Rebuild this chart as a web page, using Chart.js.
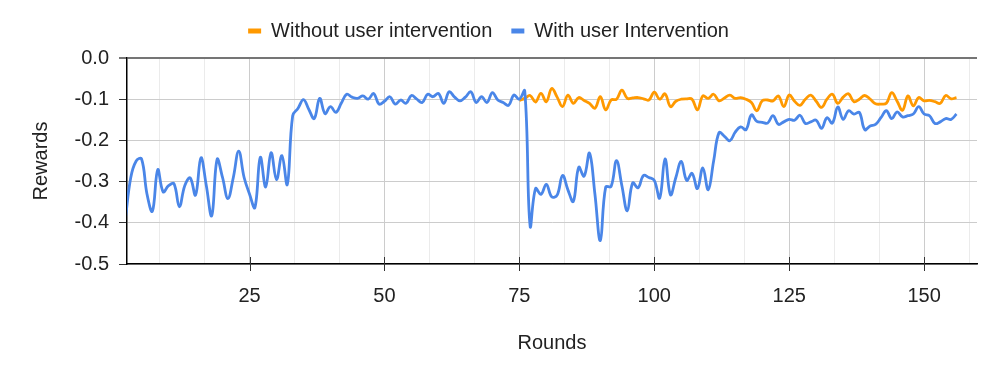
<!DOCTYPE html>
<html>
<head>
  <title>Rewards per round</title>
  <script src="https://cdn.jsdelivr.net/npm/chart.js@4.4.1/dist/chart.umd.min.js"></script>
  <style>
    body {
      margin: 0;
      background-color: white;
    }
  </style>
</head>
<body>
  <canvas id="rewardChart" width="996" height="370"></canvas>

  <script>
    // Series names
    var seriesNames = ['Without user intervention', 'With user Intervention'];

    // With user Intervention: one value per round, starting at round 2
    var withStart = 2;
    var withValues = [
      -0.390, -0.290, -0.250, -0.245, -0.330, -0.372, -0.271, -0.325, -0.310, -0.305,  // 2-11
      -0.361, -0.310, -0.291, -0.333, -0.242, -0.310, -0.383, -0.246, -0.290, -0.341,  // 12-21
      -0.290, -0.226, -0.290, -0.330, -0.363, -0.241, -0.313, -0.230, -0.295, -0.237,  // 22-31
      -0.307, -0.140, -0.122, -0.101, -0.125, -0.147, -0.098, -0.135, -0.118, -0.132,  // 32-41
      -0.110, -0.088, -0.095, -0.098, -0.092, -0.100, -0.086, -0.112, -0.105, -0.094,  // 42-51
      -0.112, -0.102, -0.110, -0.091, -0.100, -0.108, -0.088, -0.094, -0.086, -0.110,  // 52-61
      -0.082, -0.095, -0.104, -0.095, -0.082, -0.108, -0.094, -0.108, -0.084, -0.102,  // 62-71
      -0.108, -0.115, -0.090, -0.100, -0.080, -0.408, -0.317, -0.331, -0.307, -0.337,  // 72-81
      -0.333, -0.285, -0.320, -0.348, -0.265, -0.287, -0.231, -0.330, -0.443, -0.313,  // 82-91
      -0.312, -0.249, -0.310, -0.371, -0.303, -0.315, -0.285, -0.290, -0.297, -0.340,  // 92-101
      -0.245, -0.332, -0.290, -0.251, -0.297, -0.280, -0.317, -0.267, -0.320, -0.250,  // 102-111
      -0.181, -0.190, -0.201, -0.180, -0.167, -0.174, -0.138, -0.154, -0.156, -0.158,  // 112-121
      -0.140, -0.161, -0.155, -0.149, -0.151, -0.139, -0.159, -0.155, -0.151, -0.171,  // 122-131
      -0.145, -0.158, -0.119, -0.149, -0.128, -0.136, -0.132, -0.174, -0.165, -0.161,  // 132-141
      -0.145, -0.128, -0.147, -0.131, -0.143, -0.140, -0.136, -0.118, -0.136, -0.140,  // 142-151
      -0.159, -0.155, -0.147, -0.149, -0.136                                           // 152-156
    ];

    // Without user intervention: one value per round, starting at round 75
    var withoutStart = 75;
    var withoutValues = [
      -0.103, -0.098, -0.091, -0.107, -0.086, -0.106, -0.074, -0.095, -0.118, -0.090,  // 75-84
      -0.110, -0.096, -0.103, -0.110, -0.122, -0.094, -0.126, -0.102, -0.100, -0.078,  // 85-94
      -0.098, -0.097, -0.096, -0.099, -0.102, -0.083, -0.100, -0.087, -0.118, -0.105,  // 95-104
      -0.100, -0.099, -0.100, -0.126, -0.092, -0.098, -0.088, -0.104, -0.097, -0.090,  // 105-114
      -0.098, -0.096, -0.100, -0.108, -0.128, -0.104, -0.102, -0.104, -0.092, -0.118,  // 115-124
      -0.090, -0.105, -0.115, -0.100, -0.090, -0.105, -0.120, -0.100, -0.088, -0.110,  // 125-134
      -0.095, -0.087, -0.106, -0.100, -0.091, -0.100, -0.111, -0.112, -0.110, -0.084,  // 135-144
      -0.105, -0.127, -0.092, -0.116, -0.096, -0.104, -0.103, -0.106, -0.110, -0.091,  // 145-154
      -0.099, -0.096                                                                   // 155-156
    ];

    // Axis ticks
    var xMajorTicks = [25, 50, 75, 100, 125, 150];
    var xMinorPerMajor = 3;
    var xMin = 2.3;
    var xMax = 159.8;
    var yTicks = [-0.5, -0.4, -0.3, -0.2, -0.1, 0.0];

    var orange = '#ff9900';
    var blue = '#4a86e8';
    var fontFamily = "Arial, 'Liberation Sans', sans-serif";

    function toPoints(start, values) {
      var pts = [];
      for (var i = 0; i < values.length; i++) {
        pts.push({ x: start + i, y: values[i] });
      }
      return pts;
    }

    function isMajor(v) {
      return xMajorTicks.indexOf(Math.round(v * 1000) / 1000) !== -1;
    }

    // Major ticks cross the x axis line
    var crossTicks = {
      id: 'crossTicks',
      afterDraw: function(chart) {
        var ctx = chart.ctx;
        var xs = chart.scales.x;
        var bottom = chart.chartArea.bottom;
        ctx.save();
        ctx.strokeStyle = '#333';
        ctx.lineWidth = 1;
        ctx.beginPath();
        xMajorTicks.forEach(function(v) {
          var px = Math.round(xs.getPixelForValue(v)) + 0.5;
          ctx.moveTo(px, bottom - 7);
          ctx.lineTo(px, bottom + 7);
        });
        ctx.stroke();
        ctx.restore();
      }
    };

    // A bit more room under the legend
    var legendGap = {
      id: 'legendGap',
      beforeLayout: function(chart) {
        var lg = chart.legend;
        if (lg && !lg._gapPatched) {
          var fit = lg.fit;
          lg.fit = function() {
            fit.call(this);
            this.height += 7;
          };
          lg._gapPatched = true;
        }
      }
    };

    var ctx = document.getElementById('rewardChart').getContext('2d');
    var chart = new Chart(ctx, {
      type: 'line',
      data: {
        datasets: [{
          label: seriesNames[1],
          data: toPoints(withStart, withValues),
          borderColor: blue,
          backgroundColor: blue,
          borderWidth: 2.8,
          pointRadius: 0,
          tension: 0.4
        }, {
          label: seriesNames[0],
          data: toPoints(withoutStart, withoutValues),
          borderColor: orange,
          backgroundColor: orange,
          borderWidth: 2.8,
          pointRadius: 0,
          tension: 0.4
        }]
      },
      options: {
        responsive: false,
        animation: false,
        layout: {
          padding: { top: 2, right: 19, bottom: 0, left: 0 }
        },
        plugins: {
          tooltip: { enabled: false },
          legend: {
            reverse: true,
            labels: {
              boxWidth: 13,
              boxHeight: 5,
              padding: 19,
              color: '#222',
              font: { family: fontFamily, size: 20 },
              generateLabels: function(chart) {
                var items = Chart.defaults.plugins.legend.labels.generateLabels(chart);
                items.forEach(function(it) {
                  it.lineWidth = 0;
                  it.fillStyle = it.strokeStyle;
                });
                return items;
              }
            }
          }
        },
        scales: {
          x: {
            type: 'linear',
            min: xMin,
            max: xMax,
            afterFit: function(scale) { scale.height = 106; },
            afterBuildTicks: function(scale) {
              var step = (xMajorTicks[1] - xMajorTicks[0]) / xMinorPerMajor;
              var ticks = [];
              var first = xMajorTicks[0];
              for (var v = first; v - step >= xMin; v -= step) { first = v - step; }
              for (var k = 0; first + k * step <= xMax; k++) {
                ticks.push({ value: Math.round((first + k * step) * 1000) / 1000 });
              }
              scale.ticks = ticks;
            },
            grid: {
              drawTicks: false,
              color: function(c) { return isMajor(c.tick.value) ? '#cccccc' : '#ebebeb'; }
            },
            border: { color: '#000', width: 1.5 },
            ticks: {
              autoSkip: false,
              maxRotation: 0,
              padding: 20,
              color: '#222',
              font: { family: fontFamily, size: 20 },
              callback: function(value) { return isMajor(value) ? String(Math.round(value)) : ''; }
            },
            title: {
              display: true,
              text: 'Rounds',
              color: '#222',
              font: { family: fontFamily, size: 20 },
              padding: { top: 0, bottom: 15 }
            }
          },
          y: {
            min: yTicks[0],
            max: yTicks[yTicks.length - 1],
            afterFit: function(scale) { scale.width = 127; },
            afterBuildTicks: function(scale) {
              scale.ticks = yTicks.map(function(v) { return { value: v }; });
            },
            grid: {
              tickLength: 8,
              color: function(c) { return c.tick.value === 0 ? '#757575' : '#cccccc'; },
              tickColor: function(c) { return c.tick.value === 0 ? '#757575' : '#333333'; },
              lineWidth: function(c) { return c.tick.value === 0 ? 2 : 1; }
            },
            border: { color: '#000', width: 1.5 },
            ticks: {
              padding: 10,
              color: '#222',
              font: { family: fontFamily, size: 20 },
              callback: function(value) { return Number(value).toFixed(1); }
            },
            title: {
              display: true,
              text: 'Rewards',
              color: '#222',
              font: { family: fontFamily, size: 20 },
              padding: { top: 29, bottom: 0 }
            }
          }
        }
      },
      plugins: [crossTicks, legendGap]
    });
  </script>
</body>
</html>
